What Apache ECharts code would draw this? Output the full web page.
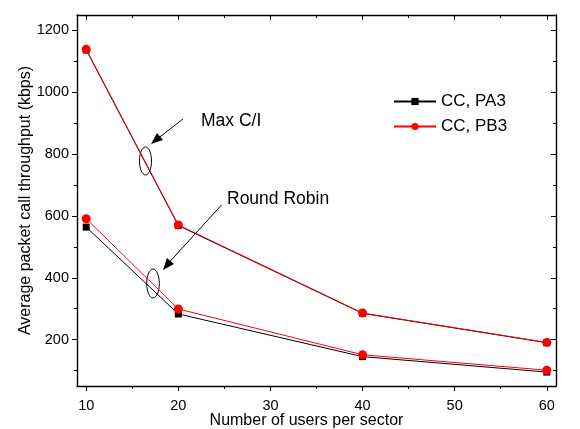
<!DOCTYPE html>
<html><head><meta charset="utf-8">
<script src="https://cdn.jsdelivr.net/npm/echarts@6/dist/echarts.min.js"></script>
<style>html,body{margin:0;padding:0;background:#fff}#c{width:580px;height:429px}</style>
</head><body><div id="c"></div>
<script>
const users = [10, 20, 40, 60];
const pa3MaxCI = [1137, 569, 285, 190];
const pa3RR = [564, 283, 145, 95];
const pb3MaxCI = [1139, 571, 286, 191];
const pb3RR = [591, 299, 151, 101];
const xTicks = [10, 20, 30, 40, 50, 60];
const xMinor = [15, 25, 35, 45, 55];
const yTicks = [200, 400, 600, 800, 1000, 1200];
const yMinor = [100, 300, 500, 700, 900, 1100];
const seriesNames = ['CC, PA3', 'CC, PB3'];
const font = 'Liberation Sans, Arial, sans-serif';

const chart = echarts.init(document.getElementById('c'), null, {renderer: 'canvas'});
const pts = (xs, ys) => xs.map((x, i) => [x, ys[i]]);
const axLine = {show: true, onZero: false, lineStyle: {color: '#000', width: 1.4}};
function xAx(pos, ticks, len, inside, labels, line, name) {
  return {
    type: 'value', min: 9, max: 61, position: pos,
    axisLine: line ? axLine : {show: false},
    axisTick: {show: true, customValues: ticks, length: len, inside: inside, lineStyle: {color: '#000', width: 1}},
    axisLabel: labels ? {show: true, customValues: ticks, formatter: v => String(v), color: '#000', fontFamily: font, fontSize: 14.5, margin: 12} : {show: false},
    splitLine: {show: false},
    name: name || '', nameLocation: 'middle', nameGap: 27, nameMoveOverlap: false,
    nameTextStyle: {color: '#000', fontFamily: font, fontSize: 16, padding: [0, 20, 0, 0]}
  };
}
function yAx(pos, ticks, len, inside, labels, line, name) {
  return {
    type: 'value', min: 50, max: 1250, position: pos,
    axisLine: line ? axLine : {show: false},
    axisTick: {show: true, customValues: ticks, length: len, inside: inside, lineStyle: {color: '#000', width: 1}},
    axisLabel: labels ? {show: true, customValues: ticks, formatter: v => String(v), color: '#000', fontFamily: font, fontSize: 14.5, margin: 8} : {show: false},
    splitLine: {show: false},
    name: name || '', nameLocation: 'middle', nameGap: 43, nameRotate: 90, nameMoveOverlap: false,
    nameTextStyle: {color: '#000', fontFamily: font, fontSize: 16}
  };
}
function ser(name, data, color, symbol, size) {
  return {
    name: name, type: 'line', xAxisIndex: 0, yAxisIndex: 0, data: data,
    symbol: symbol, symbolSize: size, showSymbol: true,
    lineStyle: {color: color, width: 1}, itemStyle: {color: color},
    animation: false, z: color === '#000' ? 2 : 3
  };
}
chart.setOption({
  animation: false,
  grid: {left: 77, right: 24, top: 15, bottom: 43, show: false, containLabel: false, outerBoundsMode: 'none'},
  xAxis: [
    xAx('bottom', xTicks, 5, false, true, true, 'Number of users per sector'),
    xAx('bottom', xMinor, 3, false, false, false),
    xAx('top', xTicks, 5, true, false, true),
    xAx('top', xMinor, 3, true, false, false)
  ],
  yAxis: [
    yAx('left', yTicks, 5, false, true, true, 'Average packet call throughput (kbps)'),
    yAx('left', yMinor, 3, false, false, false),
    yAx('right', yTicks, 5, true, false, true),
    yAx('right', yMinor, 3, true, false, false)
  ],
  legend: {
    data: seriesNames, orient: 'vertical', left: 388, top: 88,
    itemWidth: 42, itemHeight: 9, itemGap: 8,
    textStyle: {color: '#000', fontFamily: font, fontSize: 17}, inactiveColor: '#000'
  },
  series: [
    ser(seriesNames[0], pts(users, pa3MaxCI), '#000', 'rect', 7),
    ser(seriesNames[0], pts(users, pa3RR), '#000', 'rect', 7),
    ser(seriesNames[1], pts(users, pb3MaxCI), '#ff0000', 'circle', 9),
    ser(seriesNames[1], pts(users, pb3RR), '#ff0000', 'circle', 9)
  ],
  graphic: [
    {type: 'text', left: 201, top: 112, style: {text: 'Max C/I', font: '17.5px ' + font, fill: '#000'}},
    {type: 'text', left: 227, top: 190, style: {text: 'Round Robin', font: '17.5px ' + font, fill: '#000'}},
    {type: 'line', shape: {x1: 183, y1: 119, x2: 152, y2: 143}, style: {stroke: '#000', lineWidth: 1}},
    {type: 'polygon', shape: {points: [[151, 144], [163, 140], [157, 133]]}, style: {fill: '#000'}},
    {type: 'ellipse', shape: {cx: 145.5, cy: 161, rx: 6, ry: 14}, style: {stroke: '#000', fill: 'none', lineWidth: 1}},
    {type: 'line', shape: {x1: 221.5, y1: 205, x2: 164, y2: 268}, style: {stroke: '#000', lineWidth: 1}},
    {type: 'polygon', shape: {points: [[163, 270], [167, 258], [174, 264]]}, style: {fill: '#000'}},
    {type: 'ellipse', shape: {cx: 153, cy: 283.5, rx: 6.3, ry: 14.5}, style: {stroke: '#000', fill: 'none', lineWidth: 1}}
  ]
});
</script></body></html>
